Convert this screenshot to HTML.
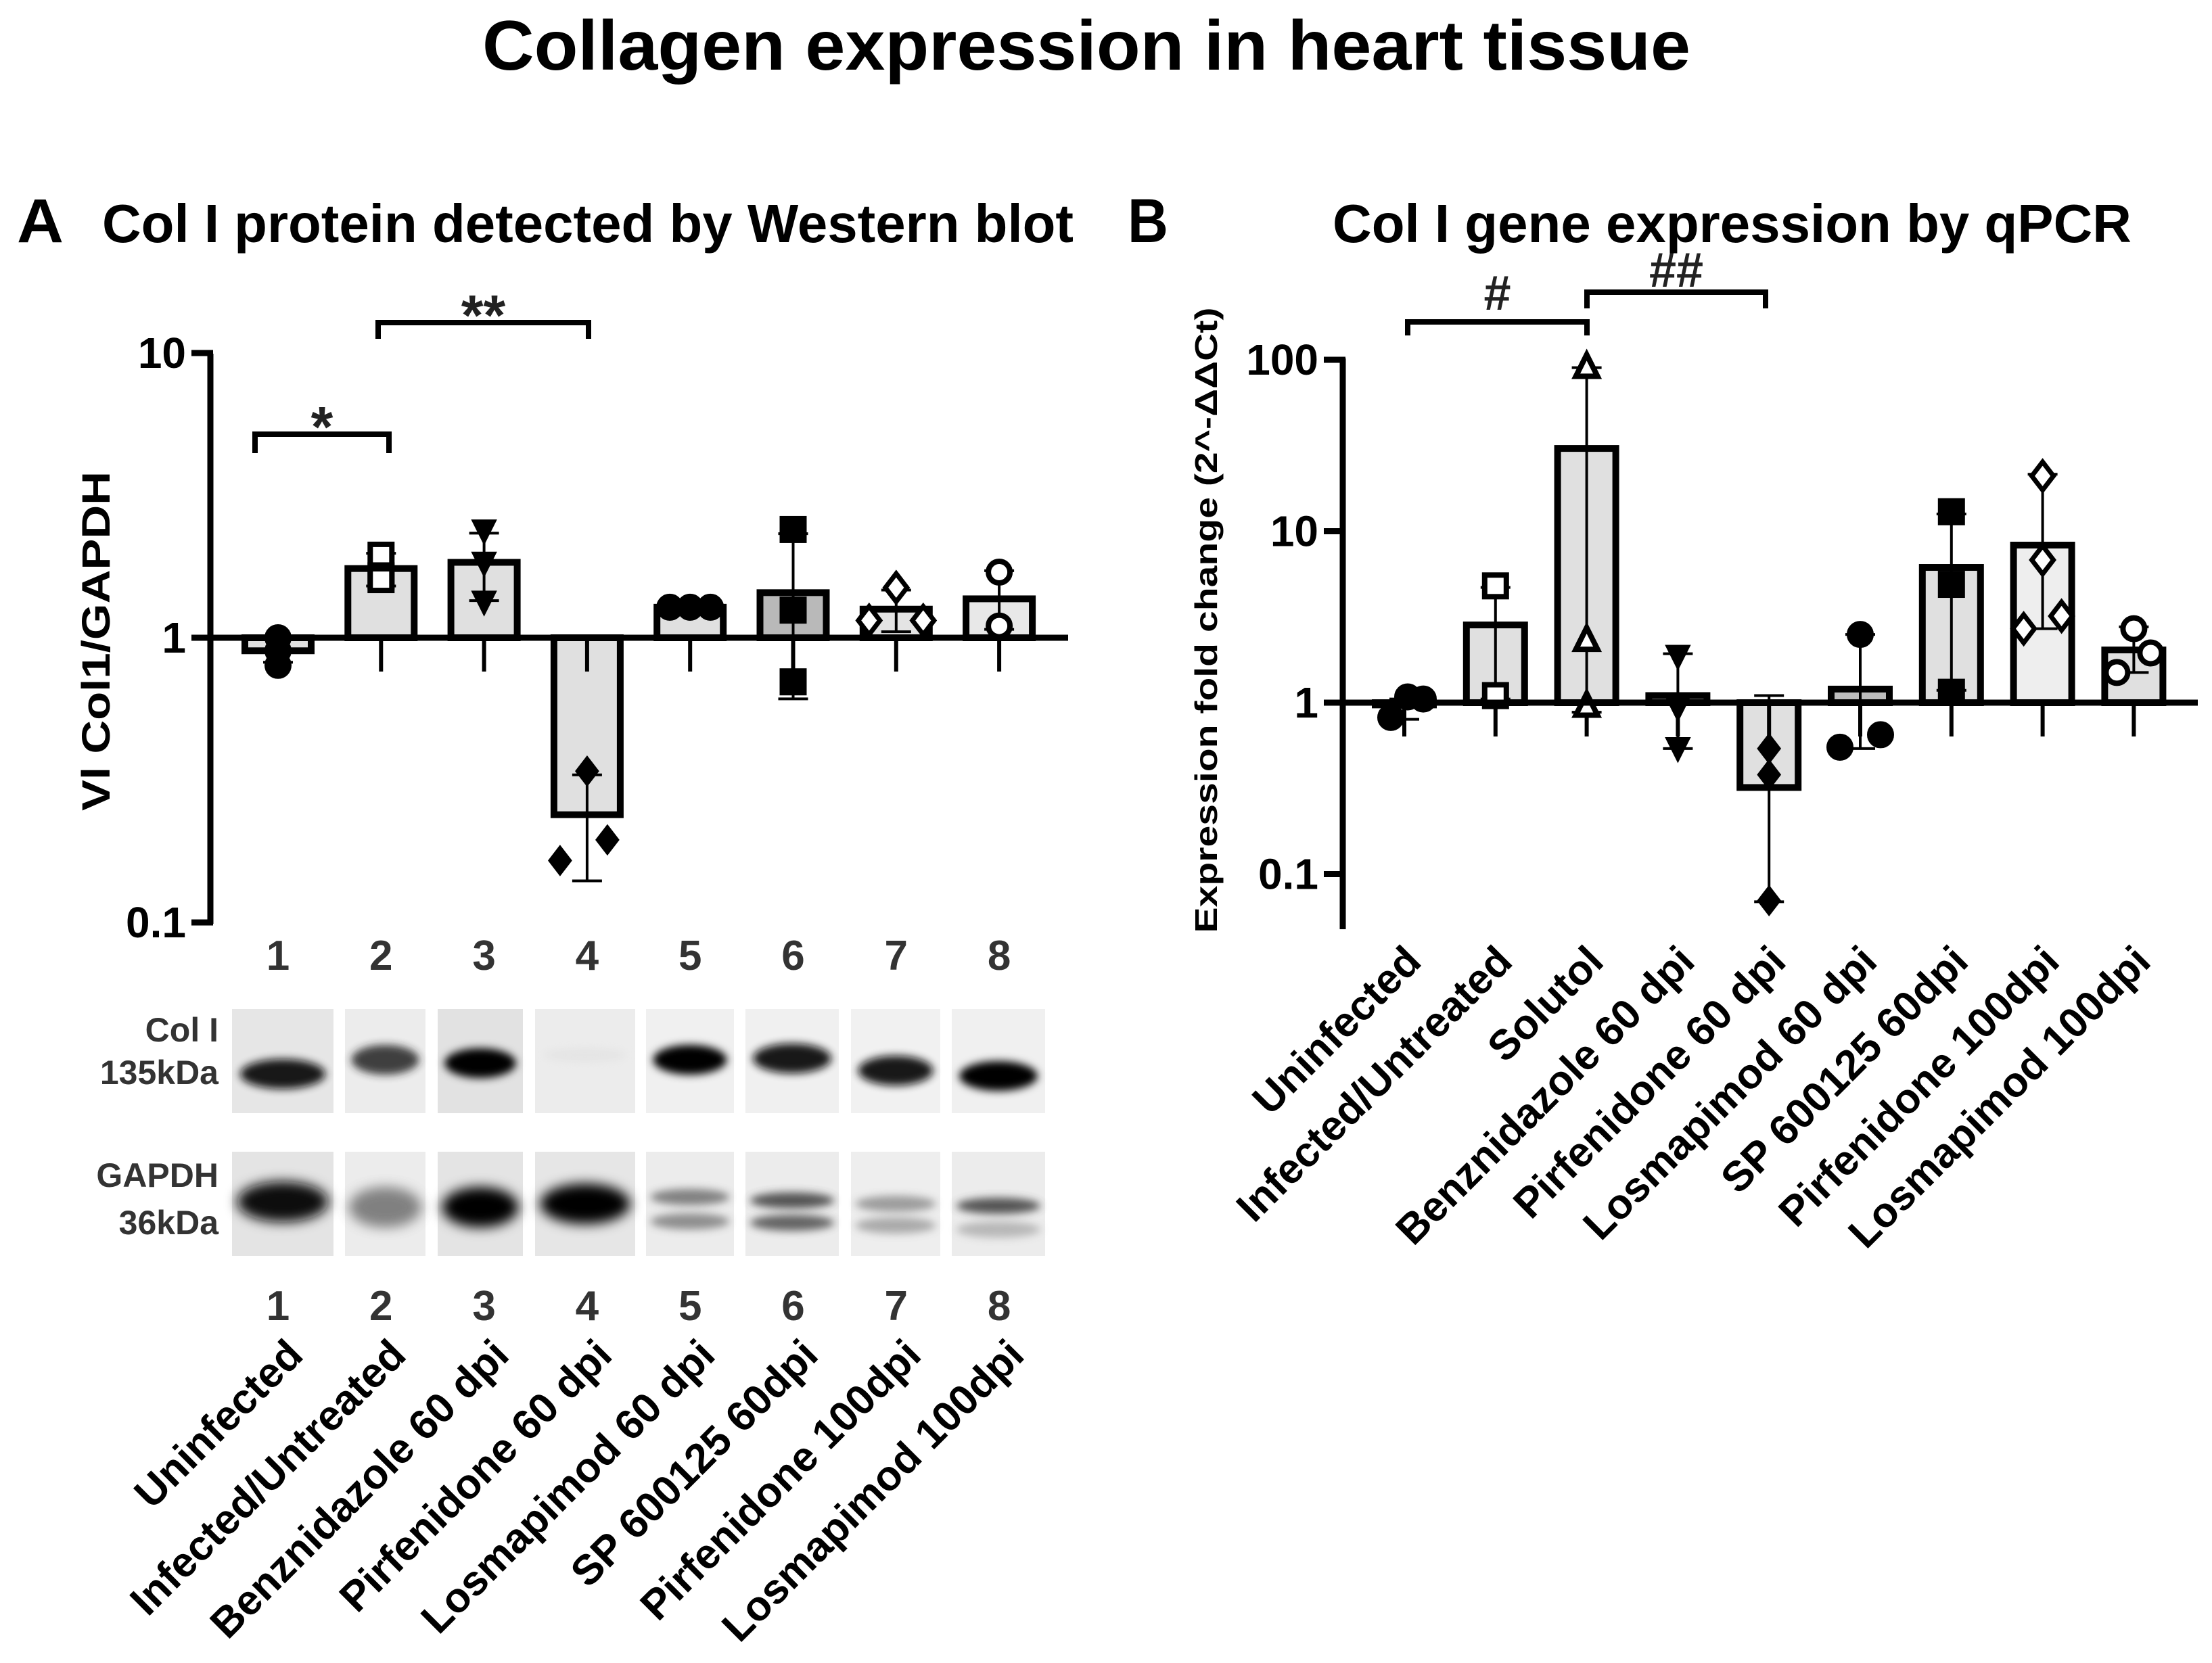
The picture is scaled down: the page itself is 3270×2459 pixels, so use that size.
<!DOCTYPE html>
<html><head><meta charset="utf-8"><style>
html,body{margin:0;padding:0;background:#fff}
svg{display:block}
text{font-family:"Liberation Sans",Arial,sans-serif;font-weight:bold}
.n{font-family:"Liberation Sans Narrow","Liberation Sans",sans-serif}
</style></head><body>
<svg id="fig" width="3270" height="2459" viewBox="0 0 3270 2459" xmlns="http://www.w3.org/2000/svg">
<defs>
<filter id="bl" x="-50%" y="-100%" width="200%" height="300%"><feGaussianBlur stdDeviation="9"/></filter>
<filter id="bl2" x="-50%" y="-100%" width="200%" height="300%"><feGaussianBlur stdDeviation="6"/></filter>
</defs>
<text x="1606" y="103" font-size="104" text-anchor="middle" textLength="1786" lengthAdjust="spacingAndGlyphs">Collagen expression in heart tissue</text>
<text x="25" y="358" font-size="92" textLength="69" lengthAdjust="spacingAndGlyphs">A</text>
<text x="151" y="358" font-size="80" textLength="1436" lengthAdjust="spacingAndGlyphs">Col I protein detected by Western blot</text>
<text x="1667" y="358" font-size="92" textLength="60" lengthAdjust="spacingAndGlyphs">B</text>
<text x="1970" y="358" font-size="80" textLength="1181" lengthAdjust="spacingAndGlyphs">Col I gene expression by qPCR</text>
<g id="A"></g>
<g id="blots"></g>
<g id="B"></g>
</svg>
<script>
// ---- Panel A data ----
const catsA = ["Uninfected","Infected/Untreated","Benznidazole  60 dpi","Pirfenidone  60 dpi","Losmapimod 60 dpi","SP 600125 60dpi","Pirfenidone  100dpi","Losmapimod  100dpi"];
const meanA = [0.90,1.75,1.84,0.239,1.28,1.44,1.26,1.37];
const errHiA = [1.0,1.98,2.33,0.33,1.30,2.32,1.47,1.72];
const errLoA = [0.82,1.52,1.35,0.14,1.26,0.61,1.05,1.07];
const ptsA = [[1.0,0.8,0.9],[1.95,1.65,1.6],[2.4,1.85,1.35],[0.34,0.165,0.195],[1.28,1.28,1.28],[2.4,1.25,0.7],[1.5,1.15,1.15],[1.7,1.1]];
const ticksA = [10,1,0.1];
const tickLabA = ["10","1","0.1"];
// ---- Panel B data ----
const catsB = ["Uninfected","Infected/Untreated","Solutol","Benznidazole  60 dpi","Pirfenidone  60 dpi","Losmapimod  60 dpi","SP 600125 60dpi","Pirfenidone  100dpi","Losmapimod  100dpi"];
const meanB = [0.97,2.84,30.4,1.1,0.32,1.2,6.15,8.3,2.03];
const errHiB = [1.05,4.7,90,1.93,1.1,2.5,12.6,21.5,2.77];
const errLoB = [0.8,1.05,0.88,0.54,0.069,0.54,1.18,2.7,1.5];
const ptsB = [[0.82,1.08,1.05],[4.8,1.1],[90,2.3,0.95],[1.9,0.95,0.55],[0.54,0.38,0.07],[2.5,0.55,0.65],[13,4.9,1.15],[21,6.8,2.7,3.2],[2.7,1.5,1.95]];
const ticksB = [100,10,1,0.1];
const tickLabB = ["100","10","1","0.1"];

const NS="http://www.w3.org/2000/svg";
function mk(p,tag,at){const e=document.createElementNS(NS,tag);for(const k in at)e.setAttribute(k,at[k]);p.appendChild(e);return e;}

const yA=v=>943-421*Math.log10(v);
const xA=i=>411+152.3*i;
const yB=v=>1039-253.5*Math.log10(v);
const xB=i=>2076+134.8*i;

function marker(g,type,cx,cy,r){
  let e;
  const sw=8;
  if(type==="circle"||type==="ocircle"){e=mk(g,"circle",{cx:cx,cy:cy,r:r,fill:type==="circle"?"#000":"#fff",stroke:"#000","stroke-width":sw});}
  else if(type==="square"||type==="osquare"){e=mk(g,"rect",{x:cx-r,y:cy-r,width:2*r,height:2*r,fill:type==="square"?"#000":"#fff",stroke:"#000","stroke-width":sw});}
  else if(type==="tri"||type==="otri"){e=mk(g,"polygon",{points:`${cx},${cy-r*1.2} ${cx+r},${cy+r*0.8} ${cx-r},${cy+r*0.8}`,fill:type==="tri"?"#000":"#fff",stroke:"#000","stroke-width":sw});}
  else if(type==="dtri"){e=mk(g,"polygon",{points:`${cx},${cy+r*1.2} ${cx+r},${cy-r*0.8} ${cx-r},${cy-r*0.8}`,fill:"#000",stroke:"#000","stroke-width":4});}
  else {e=mk(g,"polygon",{points:`${cx},${cy-r*1.3} ${cx+r},${cy} ${cx},${cy+r*1.3} ${cx-r},${cy}`,fill:type==="diamond"?"#000":"#fff",stroke:"#000","stroke-width":type==="diamond"?3:7});}
  
  
}

function panel(gid,cats,mean,hi,lo,pts,ticks,tl,X,Y,axisX,axisTop,axisBot,baseEnd,bw,fills,types,offs,labAnchor,labY){
  const g=document.getElementById(gid);
  const ax=mk(g,"line",{x1:axisX,y1:axisTop,x2:axisX,y2:axisBot,stroke:"#000","stroke-width":9});
  
  
  ticks.forEach((t,i)=>{
    const tk=mk(g,"line",{x1:axisX-28,y1:Y(t),x2:axisX+4,y2:Y(t),stroke:"#000","stroke-width":9});
    
    
    const lb=mk(g,"text",{x:axisX-36,y:Y(t)+22,"font-size":64,"text-anchor":"end",class:"n"});
    lb.textContent=tl[i];
    
    
  });
  cats.forEach((c,i)=>{
    const cx=X(i), m=mean[i];
    const top=Math.min(Y(m),Y(1)), bot=Math.max(Y(m),Y(1));
    const b=mk(g,"rect",{x:cx-bw/2,y:top,width:bw,height:bot-top,fill:fills[i],stroke:"#000","stroke-width":10});
    
    
    const eb=mk(g,"path",{d:`M${cx},${Y(hi[i])}V${Y(lo[i])}M${cx-22},${Y(hi[i])}H${cx+22}M${cx-22},${Y(lo[i])}H${cx+22}`,stroke:"#000","stroke-width":4,fill:"none"});
    
    
    const bt=mk(g,"line",{x1:cx,y1:Y(1),x2:cx,y2:Y(1)+50,stroke:"#000","stroke-width":6});
    
    
    pts[i].forEach((v,j)=>{marker(g,types[i],cx+(offs[i][j]||0),Y(v),16);});
  });
  const bl=mk(g,"line",{x1:axisX,y1:Y(1),x2:baseEnd,y2:Y(1),stroke:"#000","stroke-width":9});
  
  
  cats.forEach((c,i)=>{
    const bx=X(i)+labAnchor, by=labY;
    const t=mk(g,"text",{x:bx,y:by,"font-size":62,"text-anchor":"end",transform:`rotate(-45 ${bx} ${by})`});
    t.textContent=c;
    
    
  });
}

const fillsA=["#e0e0e0","#e0e0e0","#e0e0e0","#e0e0e0","#e0e0e0","#b9b9b9","#e4e4e4","#e8e8e8"];
const typesA=["circle","osquare","dtri","diamond","circle","square","odiamond","ocircle"];
const offsA=[[0,0,0],[0,0,0],[0,0,0],[0,-40,30],[-30,0,30],[0,0,0],[0,-40,40],[0,0]];
panel("A",catsA,meanA,errHiA,errLoA,ptsA,ticksA,tickLabA,xA,yA,311,523,1366,1579,98,fillsA,typesA,offsA,40,2007);

const fillsB=["#e0e0e0","#e0e0e0","#e0e0e0","#e0e0e0","#e0e0e0","#bdbdbd","#e0e0e0","#eeeeee","#e0e0e0"];
const typesB=["circle","osquare","otri","dtri","diamond","circle","square","odiamond","ocircle"];
const offsB=[[-20,5,28],[0,0],[0,0,0],[0,0,0],[0,0,0],[0,-30,30],[0,0,0],[0,0,-28,28],[0,-25,25]];
panel("B",catsB,meanB,errHiB,errLoB,ptsB,ticksB,tickLabB,xB,yB,1985,530,1374,3249,86,fillsB,typesB,offsB,28,1425);

(function(){
  const A=document.getElementById("A");
  const t=mk(A,"text",{x:142,y:948,"font-size":58,"text-anchor":"middle",transform:"rotate(-90 142 948)",dy:20,textLength:502,lengthAdjust:"spacingAndGlyphs"});
  t.textContent="Vl Col1/GAPDH";
  
  
  const B=document.getElementById("B");
  const u=mk(B,"text",{x:1783,y:917,"font-size":46,"text-anchor":"middle",transform:"rotate(-90 1783 917)",dy:16,textLength:925,lengthAdjust:"spacingAndGlyphs"});
  u.textContent="Expression fold change (2^-ΔΔCt)";
  
  
  for(let i=0;i<8;i++){
    [1412,1930].forEach(yy=>{
      const n=mk(A,"text",{x:xA(i),y:yy+22,"font-size":62,"text-anchor":"middle",fill:"#333",class:"n"});
      n.textContent=String(i+1);
      
      
    });
  }
  function br(g,x1,x2,y,leg,label,ly,nm,fs){
    const p=mk(g,"path",{d:`M${x1},${y+leg}V${y}H${x2}V${y+leg}`,stroke:"#000","stroke-width":8,fill:"none"});
    
    
    const t=mk(g,"text",{x:(x1+x2)/2,y:ly,"font-size":fs,"text-anchor":"middle",fill:"#222"});
    t.textContent=label;
    
    
  }
  br(A,377,575,642,28,"*",660,"sig-bracket-1-2",84);
  br(A,559,870,477,24,"**",495,"sig-bracket-2-4",84);
  br(B,2081,2346,476,20,"#",458,"sig-bracket-b-1-3",72);
  br(B,2346,2610,432,24,"##",424,"sig-bracket-b-3-5",72);
})();

(function(){
  const g=document.getElementById("blots");
  const lanes=[[343,493],[510,629],[647,773],[791,939],[955,1085],[1102,1240],[1258,1390],[1407,1545]];
  const bg1=["#e6e6e6","#ececec","#e2e2e2","#ececec","#f0f0f0","#f0f0f0","#f1f1f1","#f0f0f0"];
  const bg2=["#e4e4e4","#ececec","#e4e4e4","#e6e6e6","#ececec","#ececec","#eeeeee","#ececec"];
  const col=[[1588,"#111",0.95],[1567,"#222",0.85],[1572,"#000",1],[1560,"#ddd",0.5],[1567,"#000",1],[1565,"#111",0.95],[1583,"#111",0.95],[1591,"#000",1]];
  const gap=[[[1777,"#111",1]],[[1785,"#666",0.8]],[[1785,"#000",1]],[[1780,"#000",1]],[[1770,"#666",0.8],[1806,"#777",0.8]],[[1775,"#444",0.9],[1808,"#555",0.9]],[[1780,"#888",0.8],[1812,"#999",0.8]],[[1783,"#444",0.9],[1818,"#aaa",0.8]]];
  lanes.forEach((l,i)=>{
    const w=l[1]-l[0], cx=(l[0]+l[1])/2;
    let r=mk(g,"rect",{x:l[0],y:1492,width:w,height:154,fill:bg1[i]});
    
    
    let e=mk(g,"ellipse",{cx:cx,cy:col[i][0],rx:w*0.42,ry:i===3?10:22,fill:col[i][1],opacity:col[i][2],filter:"url(#bl2)"});
    
    
    r=mk(g,"rect",{x:l[0],y:1703,width:w,height:154,fill:bg2[i]});
    
    
    gap[i].forEach(b=>{
      const big=gap[i].length===1;
      const f=mk(g,"ellipse",{cx:cx,cy:b[0],rx:w*0.45,ry:big?30:12,fill:b[1],opacity:b[2],filter:big?"url(#bl)":"url(#bl2)"});
      
      
    });
  });
  const labs=[["Col I",1540],["135kDa",1603],["GAPDH",1755],["36kDa",1825]];
  labs.forEach(a=>{
    const t=mk(g,"text",{x:323,y:a[1],"font-size":50,"text-anchor":"end",fill:"#333"});
    t.textContent=a[0];
    
    
  });
})();
</script>
</body></html>
